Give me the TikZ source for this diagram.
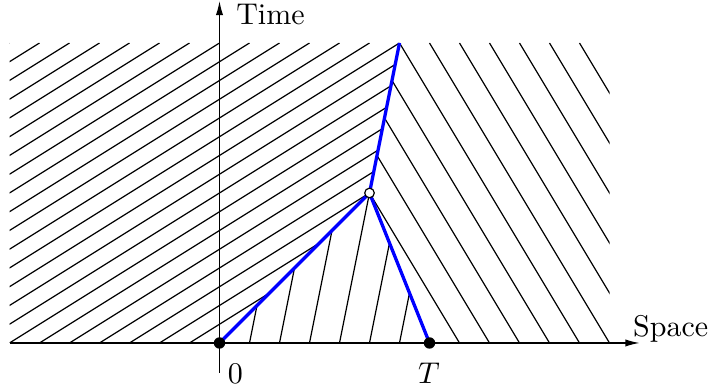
\documentclass[tikz,border=0pt]{standalone}
\usepackage{amsmath,amssymb}
\usepackage{tikz}
\usetikzlibrary{arrows.meta}

\begin{document}
\begin{tikzpicture}[
    x=10pt, y=10pt,
    hatch/.style={line width=0.4pt},
    shock/.style={blue, line width=1.1pt},
    axis/.style={line width=0.4pt, -{Latex[length=4.7pt,width=2.4pt]}},
    dot/.style={circle, fill=black, inner sep=0pt, minimum size=3.8pt},
    opendot/.style={circle, draw=black, fill=white, line width=0.4pt, inner sep=0pt, minimum size=3.2pt},
    lbl/.style={inner sep=0pt}
]
    \useasboundingbox (-7.317,-1.6) rectangle (16.45,11.433);

    % Key points
    \coordinate (O) at (0,0);
    \coordinate (T) at (7,0);
    \coordinate (M) at (5,5);
    \coordinate (P) at (6,10);
    \coordinate (xstart) at (-7,0);
    \coordinate (xend) at (14,0);
    \coordinate (ystart) at (0,-1);
    \coordinate (yend) at (0,11.4);

    % Left characteristics
    \begin{scope}
        \clip (-7,0) -- (O) -- (M) -- (P) -- (-7,10) -- cycle;
        \foreach \k in {-23,...,-1}
            \draw [hatch] (\k,0) -- ++(16,10);
    \end{scope}

    % Middle characteristics
    \begin{scope}
        \clip (O) -- (T) -- (M) -- cycle;
        \foreach \k in {1,...,6}
            \draw [hatch] (\k,0) -- ++(2,10);
    \end{scope}

    % Right characteristics
    \begin{scope}
        \clip (T) -- (13,0) -- (13,10) -- (P) -- (M) -- cycle;
        \foreach \k in {8,...,18}
            \draw [hatch] (\k,0) -- ++(-6,10);
    \end{scope}

    % Axes
    \draw [axis] (xstart) -- (xend);
    \draw [axis] (ystart) -- (yend);
    \node [lbl, anchor=base west] (space) at (13.77,0.23) {Space};
    \node [lbl, anchor=base west] (time) at (0.54,10.6) {Time};

    % Shocks
    \draw [shock] (O) -- (M) -- (P);
    \draw [shock] (T) -- (M);

    % Points
    \node [dot] (dotO) at (O) {};
    \node [dot] (dotT) at (T) {};
    \node [opendot] (dotM) at (M) {};
    \node [lbl, anchor=base] (zero) at (0.53,-1.34) {$0$};
    \node [lbl, anchor=base] (tlabel) at (6.98,-1.34) {$T$};
\end{tikzpicture}
\end{document}
